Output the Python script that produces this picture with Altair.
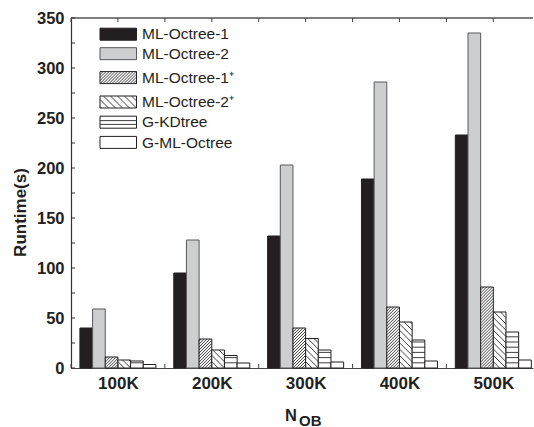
import json
import math

import altair as alt
import pandas as pd

# ---- data ---------------------------------------------------------------
sizes = ["100K", "200K", "300K", "400K", "500K"]
series = ["ML-Octree-1", "ML-Octree-2", "ML-Octree-1\u207a", "ML-Octree-2\u207a",
          "G-KDtree", "G-ML-Octree"]
ml_octree_1 = [40, 95, 132, 189, 233]
ml_octree_2 = [59, 128, 203, 286, 335]
ml_octree_1_plus = [11, 29, 40, 61, 81]
ml_octree_2_plus = [8, 18, 29.5, 46, 56]
g_kdtree = [7, 12.5, 18, 28, 36]
g_ml_octree = [3.5, 5, 6, 7, 8]
y_tick_values = list(range(0, 351, 25))
y_label_values = list(range(0, 351, 50))

values_by_series = [ml_octree_1, ml_octree_2, ml_octree_1_plus,
                    ml_octree_2_plus, g_kdtree, g_ml_octree]

# ---- layout / style -----------------------------------------------------
W, H = 462, 350
X_MIN = 0.5
X_MAX = X_MIN + W / 93.85
Y_MAX = 350
BAR = 0.135                      # bar width in group units
PX_X = W / (X_MAX - X_MIN)       # pixels per group unit
PX_Y = H / Y_MAX                 # pixels per second
INK = "#231f20"
FONT = "Liberation Sans"

fill_range = [INK, "#cdced0", "#ffffff", "#ffffff", "#ffffff", "#ffffff"]
stroke_range = [INK, "#58595b", INK, INK, INK, INK]
# hatch kind and spacing (px) for bars and for legend swatches
hatch_style = {
    series[2]: ("fwd", 3.0, 3.0),
    series[3]: ("back", 6.3, 7.0),
    series[4]: ("horiz", 5.2, 3.8),
}


def hatch_local(kind, step, w, h):
    """Hatch segments inside a w x h box (origin bottom-left, v upward)."""
    segs = []
    if kind in ("fwd", "back"):
        k = math.ceil(-w / step)
        c = k * step
        while c < h:
            u0 = max(0.0, -c)
            u1 = min(w, h - c)
            if u1 - u0 > 0.3:
                segs.append((u0, u0 + c, u1, u1 + c))
            c += step
        if kind == "back":
            segs = [(w - a, b, w - cc, d) for a, b, cc, d in segs]
    elif kind == "horiz":
        v = step
        while v < h - 0.8:
            segs.append((0.0, v, w, v))
            v += step
    return segs


# ---- tables -------------------------------------------------------------
bar_rows, hatch_rows = [], []
for si, name in enumerate(series):
    for gi, size in enumerate(sizes):
        val = values_by_series[si][gi]
        xc = (gi + 1) + (si - 2.5) * BAR
        x0, x1 = xc - BAR / 2, xc + BAR / 2
        bar_rows.append({"series": name, "size": size, "x0": x0, "x1": x1,
                         "value": val, "base": 0})
        if name in hatch_style:
            kind, step, _ = hatch_style[name]
            for a, b, c, d in hatch_local(kind, step, BAR * PX_X, val * PX_Y):
                hatch_rows.append({"x": x0 + a / PX_X, "y": b / PX_Y,
                                   "x2": x0 + c / PX_X, "y2": d / PX_Y})
bars = pd.DataFrame(bar_rows)
hatches = pd.DataFrame(hatch_rows)

# legend drawn inside the plot (pixel layout converted to data units)
LEG_X0, LEG_X1, LEG_TXT = 29.0, 65.5, 71.0
LEG_ROWS = [16.2, 35.7, 59.6, 84.0, 104.2, 124.4]
LEG_H = 12.0


def to_x(px):
    return X_MIN + px / PX_X


def to_y(py):
    return Y_MAX - py / PX_Y


leg_rows, leg_hatch = [], []
for name, yc in zip(series, LEG_ROWS):
    leg_rows.append({"series": name, "x0": to_x(LEG_X0), "x1": to_x(LEG_X1),
                     "y0": to_y(yc + LEG_H / 2), "y1": to_y(yc - LEG_H / 2),
                     "tx": to_x(LEG_TXT), "ty": to_y(yc + 5.2)})
    if name in hatch_style:
        kind, _, step = hatch_style[name]
        for a, b, c, d in hatch_local(kind, step, LEG_X1 - LEG_X0, LEG_H):
            leg_hatch.append({"x": to_x(LEG_X0 + a), "y": to_y(yc + LEG_H / 2 - b),
                              "x2": to_x(LEG_X0 + c), "y2": to_y(yc + LEG_H / 2 - d)})
legend = pd.DataFrame(leg_rows)
legend_hatch = pd.DataFrame(leg_hatch)

# ---- encodings ----------------------------------------------------------
x_scale = alt.Scale(domain=[X_MIN, X_MAX], nice=False, zero=False)
y_scale = alt.Scale(domain=[0, Y_MAX], nice=False)
label_expr = "%s[datum.value - 1]" % json.dumps(sizes)
x_axis = alt.Axis(values=[1, 2, 3, 4, 5], labelExpr=label_expr, title=None,
                  grid=False, ticks=False, tickSize=0, labelFont=FONT,
                  labelFontWeight="bold", labelFontSize=17, labelColor=INK,
                  labelPadding=7, domainColor="#444444", domainWidth=1.2)
y_axis = alt.Axis(values=y_label_values, title="Runtime(s)", grid=False,
                  ticks=False, tickSize=0, labelFont=FONT, labelFontWeight="bold",
                  labelFontSize=16.5, labelColor=INK, labelPadding=7,
                  domainColor="#333333", domainWidth=1.2,
                  titleFont=FONT, titleFontWeight="bold", titleFontSize=17,
                  titleColor=INK, titleAngle=270, titleAlign="center",
                  titleBaseline="alphabetic", titleX=-46, titleY=194)

fill_scale = alt.Scale(domain=series, range=fill_range)
stroke_scale = alt.Scale(domain=series, range=stroke_range)

bar_layer = alt.Chart(bars).mark_rect(strokeWidth=1).encode(
    x=alt.X("x0:Q", scale=x_scale, axis=x_axis),
    x2="x1:Q",
    y=alt.Y("value:Q", scale=y_scale, axis=y_axis),
    y2="base:Q",
    fill=alt.Fill("series:N", scale=fill_scale, legend=None),
    stroke=alt.Stroke("series:N", scale=stroke_scale, legend=None),
)

hatch_layer = alt.Chart(hatches).mark_rule(color="#2a2a2a", strokeWidth=0.9).encode(
    x=alt.X("x:Q", scale=x_scale, axis=x_axis),
    y=alt.Y("y:Q", scale=y_scale, axis=y_axis),
    x2="x2:Q", y2="y2:Q",
)

legend_box = alt.Chart(legend).mark_rect(strokeWidth=1).encode(
    x=alt.X("x0:Q", scale=x_scale, axis=x_axis),
    x2="x1:Q",
    y=alt.Y("y0:Q", scale=y_scale, axis=y_axis),
    y2="y1:Q",
    fill=alt.Fill("series:N", scale=fill_scale, legend=None),
    stroke=alt.Stroke("series:N", scale=stroke_scale, legend=None),
)

legend_lines = alt.Chart(legend_hatch).mark_rule(color="#2a2a2a", strokeWidth=0.9).encode(
    x=alt.X("x:Q", scale=x_scale, axis=x_axis),
    y=alt.Y("y:Q", scale=y_scale, axis=y_axis),
    x2="x2:Q", y2="y2:Q",
)

legend_text = alt.Chart(legend).mark_text(
    align="left", baseline="alphabetic", font=FONT, fontSize=15.5, color=INK
).encode(
    x=alt.X("tx:Q", scale=x_scale, axis=x_axis),
    y=alt.Y("ty:Q", scale=y_scale, axis=y_axis),
    text="series:N",
)

# frame: top border and inward ticks on left, top and bottom
one = pd.DataFrame({"k": [0]})
top_line = alt.Chart(one).mark_rule(color="#555555", strokeWidth=1.5).encode(
    x=alt.value(0), x2=alt.value(W), y=alt.value(0)
)
half_ticks = pd.DataFrame({"t": [0.5 + 0.5 * i for i in range(10)]})
top_ticks = alt.Chart(half_ticks).mark_rule(color="#444444", strokeWidth=1).encode(
    x=alt.X("t:Q", scale=x_scale, axis=x_axis), y=alt.value(0), y2=alt.value(4)
)
bottom_ticks = alt.Chart(half_ticks).mark_rule(color="#444444", strokeWidth=1).encode(
    x=alt.X("t:Q", scale=x_scale, axis=x_axis), y=alt.value(H), y2=alt.value(H - 4)
)
left_ticks = alt.Chart(pd.DataFrame({"t": y_tick_values})).mark_rule(
    color="#333333", strokeWidth=1
).encode(
    y=alt.Y("t:Q", scale=y_scale, axis=y_axis), x=alt.value(0), x2=alt.value(4)
)

# x-axis title N_OB (subscript drawn as a second, lowered text)
title_n = alt.Chart(one).mark_text(
    align="left", baseline="alphabetic", font=FONT, fontWeight="bold",
    fontSize=16.5, color=INK
).encode(x=alt.value(214), y=alt.value(403), text=alt.value("N"))
title_ob = alt.Chart(one).mark_text(
    align="left", baseline="alphabetic", font=FONT, fontWeight="bold",
    fontSize=15, color=INK
).encode(x=alt.value(228), y=alt.value(407.5), text=alt.value("OB"))

chart = alt.layer(
    bar_layer, hatch_layer, top_line, top_ticks, bottom_ticks, left_ticks,
    legend_box, legend_lines, legend_text, title_n, title_ob,
).properties(
    width=W, height=H,
    autosize=alt.AutoSizeParams(type="none"),
    padding={"left": 71, "top": 18, "right": 1, "bottom": 59},
    background="white",
).configure_view(stroke=None)

chart.save("out.html", embed_options={"renderer": "svg", "actions": False})
